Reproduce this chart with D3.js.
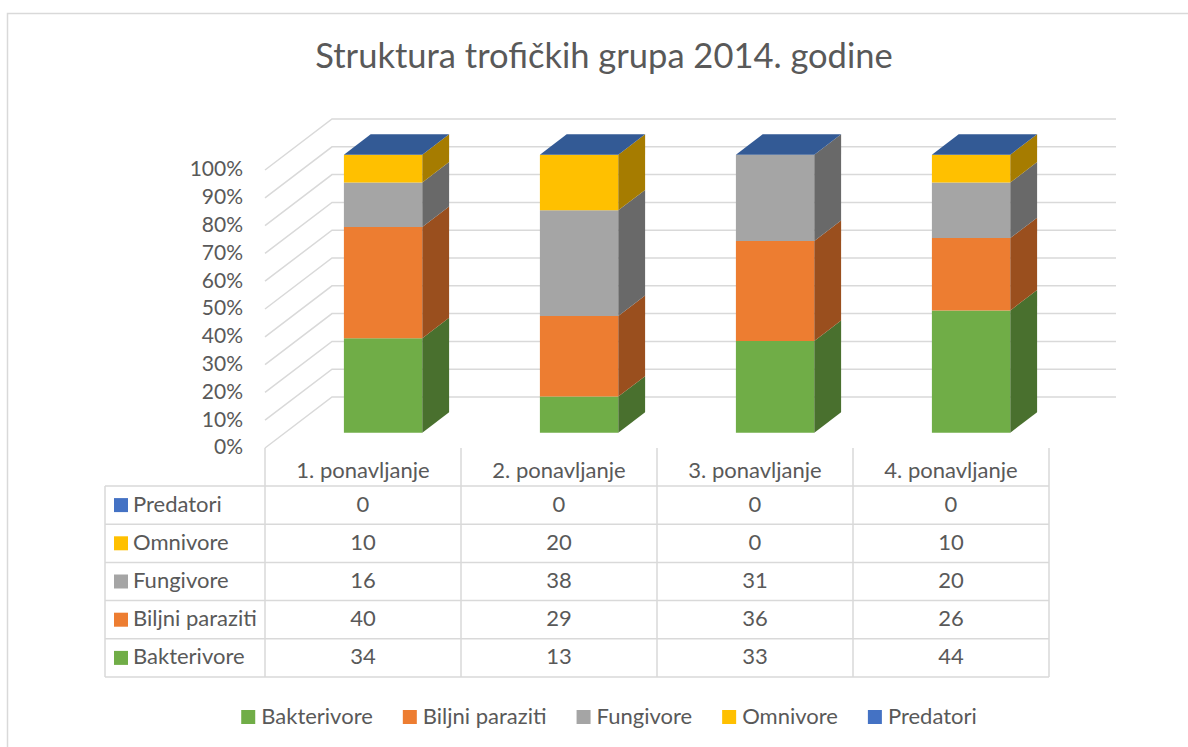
<!DOCTYPE html>
<html>
<head>
<meta charset="utf-8">
<script src="https://cdn.jsdelivr.net/npm/d3@7"></script>
<style>
body{margin:0;background:#fff;}
svg{display:block;}
text{font-family:Lato,"Open Sans",sans-serif;fill:#595959;}
</style>
</head>
<body>
<div id="chart"></div>
<script>
// data (percent shares per repetition)
let categories=["1. ponavljanje","2. ponavljanje","3. ponavljanje","4. ponavljanje"];
let seriesNames=["Bakterivore","Biljni paraziti","Fungivore","Omnivore","Predatori"];
let bakterivore=[34,13,33,44];
let biljniParaziti=[40,29,36,26];
let fungivore=[16,38,31,20];
let omnivore=[10,20,0,10];
let predatori=[0,0,0,0];
let yTicks=[0,10,20,30,40,50,60,70,80,90,100];

let colors=["#70AD47","#ED7D31","#A5A5A5","#FFC000","#4472C4"];
let sideColors=["#49702E","#9A4F1E","#696969","#A67C00","#2C4A80"];
let topColor="#335A95";
let fs="22px";

let width=1188,height=747;
let svg=d3.select("#chart").append("svg").attr("width",width).attr("height",height);

// outer frame
svg.append("rect").attr("x",7.5).attr("y",13.5).attr("width",1200).attr("height",800)
.style("fill","none").style("stroke","#D9D9D9").style("stroke-width",1.5);

svg.append("text").attr("x",604).attr("y",68).attr("text-anchor","middle")
.style("font-size","34.5px").text("Struktura trofičkih grupa 2014. godine");

// 3d geometry: front plane + depth vector
let depth={x:67,y:-51};
let x=d3.scaleBand().domain(categories).range([265,1049]).paddingInner(0.6).paddingOuter(0.3);
let cols=d3.scaleBand().domain(categories).range([265,1049]);
let y=d3.scaleLinear().domain([0,100]).range([448,170]);
let z0=0.3,z1=0.7;
function P(px,py,z){return [px+z*depth.x,py+z*depth.y];}

let rows=categories.map((c,i)=>({cat:c,Bakterivore:bakterivore[i],"Biljni paraziti":biljniParaziti[i],
  Fungivore:fungivore[i],Omnivore:omnivore[i],Predatori:predatori[i]}));
let stacked=d3.stack().keys(seriesNames)(rows);

// gridlines: back wall + left wall
let grid=svg.append("g").style("stroke","#D9D9D9").style("stroke-width",1.5).style("fill","none");
yTicks.forEach(t=>{
  let a=P(265,y(t),0),b=P(265,y(t),1),c=P(1049,y(t),1);
  grid.append("path").attr("d",d3.line()([a,b,c]));
});

// y labels
svg.append("g").selectAll("text").data(yTicks).enter().append("text")
.attr("x",243).attr("y",d=>y(d)+1).attr("text-anchor","end").attr("dominant-baseline","middle")
.style("font-size","21px").text(d=>d+"%");

// bars
let bars=svg.append("g");
stacked.forEach((s,si)=>{
  s.forEach((d,i)=>{
    let bx=x(categories[i]),bw=x.bandwidth();
    let yb=y(d[0]),yt=y(d[1]);
    if(d[1]-d[0]>0){
      let f=[P(bx,yt,z0),P(bx+bw,yt,z0),P(bx+bw,yb,z0),P(bx,yb,z0)];
      bars.append("path").attr("d",d3.line()(f)+"Z").style("fill",colors[si]);
      let sd=[P(bx+bw,yt,z0),P(bx+bw,yt,z1),P(bx+bw,yb,z1),P(bx+bw,yb,z0)];
      bars.append("path").attr("d",d3.line()(sd)+"Z").style("fill",sideColors[si]);
    }
    if(si==seriesNames.length-1){
      let tp=[P(bx,yt,z0),P(bx+bw,yt,z0),P(bx+bw,yt,z1),P(bx,yt,z1)];
      bars.append("path").attr("d",d3.line()(tp)+"Z").style("fill",topColor);
    }
  });
});

// data table
let rowH=38.2,tTop=486,tLeft=105;
let tbl=svg.append("g").style("stroke","#D9D9D9").style("stroke-width",1.5).style("fill","none");
let order=seriesNames.slice().reverse();
let bottom=tTop+order.length*rowH;
tbl.append("line").attr("x1",tLeft).attr("x2",tLeft).attr("y1",tTop).attr("y2",bottom);
categories.concat(["end"]).forEach((c,i)=>{
  let xx=265+i*cols.step();
  tbl.append("line").attr("x1",xx).attr("x2",xx).attr("y1",448).attr("y2",bottom);
});
d3.range(order.length+1).forEach(r=>{
  tbl.append("line").attr("x1",tLeft).attr("x2",1049).attr("y1",tTop+r*rowH).attr("y2",tTop+r*rowH);
});

svg.append("g").selectAll("text").data(categories).enter().append("text")
.attr("x",d=>cols(d)+cols.bandwidth()/2).attr("y",472).attr("text-anchor","middle")
.attr("dominant-baseline","middle").style("font-size",fs).text(d=>d);

let vals={"Bakterivore":bakterivore,"Biljni paraziti":biljniParaziti,"Fungivore":fungivore,"Omnivore":omnivore,"Predatori":predatori};
order.forEach((name,r)=>{
  let cy=tTop+r*rowH+rowH/2;
  svg.append("rect").attr("x",114).attr("y",cy-7).attr("width",14).attr("height",14)
  .style("fill",colors[seriesNames.indexOf(name)]);
  svg.append("text").attr("x",133).attr("y",cy+1).attr("dominant-baseline","middle")
  .style("font-size",fs).text(name);
  vals[name].forEach((v,i)=>{
    svg.append("text").attr("x",cols(categories[i])+cols.bandwidth()/2).attr("y",cy+1)
    .attr("text-anchor","middle").attr("dominant-baseline","middle").style("font-size",fs).text(v);
  });
});

// legend
let leg=svg.append("g");
let lx=0;
seriesNames.forEach((name,i)=>{
  let g=leg.append("g").attr("transform","translate("+lx+",0)");
  g.append("rect").attr("x",0).attr("y",-7).attr("width",14).attr("height",14).style("fill",colors[i]);
  let t=g.append("text").attr("x",20).attr("y",1).attr("dominant-baseline","middle")
  .style("font-size",fs).text(name);
  lx+=20+t.node().getComputedTextLength()+30;
});
lx-=30;
leg.attr("transform","translate("+(609-lx/2)+",717)");
</script>
</body>
</html>
